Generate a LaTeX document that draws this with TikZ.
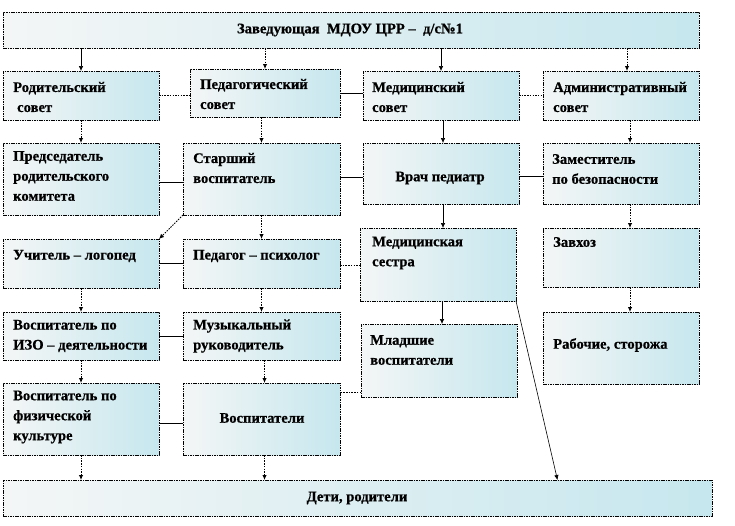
\documentclass[tikz,border=0pt]{standalone}
\usepackage{fontspec}
\setmainfont{Liberation Serif}[BoldFeatures={FakeBold=0.6}]
\usetikzlibrary{arrows.meta,calc}
\definecolor{wl}{RGB}{244,246,246}
\definecolor{bl}{RGB}{198,231,238}
\newcommand{\mybox}[5]{\node[box, minimum width={#4-#2}, minimum height={#5-#3}] (#1) at (#2,#3) {};}
\begin{document}
\begin{tikzpicture}[x=1pt,y=-1pt,
 box/.style={draw=black, dash pattern=on 1.6pt off 0.8pt, line width=0.9pt, left color=wl, right color=bl, inner sep=0pt, outer sep=0pt, anchor=north west},
 txt/.style={font=\fontsize{14.6}{20}\selectfont\bfseries, align=left, inner sep=0pt, anchor=west},
 ctxt/.style={font=\fontsize{14.6}{20}\selectfont\bfseries, inner sep=0pt},
 sline/.style={draw=black, line width=0.6pt},
 dline/.style={draw=black, line width=0.9pt, dash pattern=on 1.5pt off 1.2pt},
 tip/.style={-{Latex[length=5pt,width=4.5pt]}},
]
\useasboundingbox (0,0) rectangle (735,525);
% boxes
\mybox{top}{3}{12}{699}{48}
\mybox{a1}{3}{71}{159}{120}
\mybox{b1}{190}{69}{340}{117}
\mybox{c1}{363}{71}{519}{120}
\mybox{d1}{543}{71}{699}{120}
\mybox{a2}{3}{143}{159}{215}
\mybox{b2}{183}{143}{340}{215}
\mybox{c2}{363}{143}{519}{204}
\mybox{d2}{543}{143}{699}{204}
\mybox{a3}{3}{239}{159}{288}
\mybox{b3}{183}{239}{340}{288}
\mybox{c3}{360}{228}{516}{301}
\mybox{d3}{543}{228}{699}{287}
\mybox{a4}{3}{312}{159}{360}
\mybox{b4}{183}{312}{340}{360}
\mybox{c4}{361}{324}{517}{397}
\mybox{d4}{543}{312}{699}{384}
\mybox{a5}{3}{383}{159}{455}
\mybox{b5}{183}{383}{340}{455}
\mybox{bot}{3}{480}{712}{516}
% texts
\node[ctxt] (ttop) at (350,30) {Заведующая\ \ МДОУ ЦРР –\ \ д/с№1};
\node[txt] (ta1) at (13,97) {Родительский\\\hspace*{4pt}совет};
\node[txt] (tb1) at (200,94) {Педагогический\\совет};
\node[txt] (tc1) at (372,97) {Медицинский\\совет};
\node[txt] (td1) at (553,97) {Административный\\совет};
\node[txt] (ta2) at (13,176) {Председатель\\родительского\\комитета};
\node[txt] (tb2) at (193,168) {Старший\\воспитатель};
\node[ctxt] (tc2) at (440,178) {Врач педиатр};
\node[txt] (td2) at (552,169) {Заместитель\\по безопасности};
\node[txt] (ta3) at (13,256) {Учитель – логопед};
\node[txt] (tb3) at (193,256) {Педагог – психолог};
\node[txt] (tc3) at (372,253) {Медицинская\\сестра};
\node[txt] (td3) at (553,242) {Завхоз};
\node[txt] (ta4) at (13,336) {Воспитатель по\\ИЗО – деятельности};
\node[txt] (tb4) at (193,336) {Музыкальный\\руководитель};
\node[txt] (tc4) at (370,350) {Младшие\\воспитатели};
\node[txt] (td4) at (553,345) {Рабочие, сторожа};
\node[txt] (ta5) at (13,417) {Воспитатель по\\физической\\культуре};
\node[ctxt] (tb5) at (262,418) {Воспитатели};
\node[ctxt] (tbot) at (357,498) {Дети, родители};
% connectors from top
\draw[sline,tip] (a1.north |- top.south) -- (a1.north);
\draw[dline,tip] (b1.north |- top.south) -- (b1.north);
\draw[sline,tip] (c1.north |- top.south) -- (c1.north);
\draw[dline,tip] ([xshift=6pt]d1.north |- top.south) -- ([xshift=6pt]d1.north);
% row 1 horizontals
\draw[dline] (a1.east) -- (b1.west |- a1.east);
\draw[sline] (b1.east) -- (c1.west |- b1.east);
\draw[dline] (c1.east) -- (d1.west);
% row 1 -> row 2
\draw[dline,tip] (a1.south) -- (a2.north);
\draw[dline,tip] (b2.north |- b1.south) -- (b2.north);
\draw[sline,tip] ([xshift=2pt]c1.south) -- ([xshift=2pt]c2.north);
\draw[dline,tip] ([xshift=9pt]d1.south) -- ([xshift=9pt]d2.north);
% row 2 horizontals
\draw[sline] ([yshift=-3pt]a2.east) -- ([yshift=-3pt]b2.west);
\draw[sline] ([yshift=2pt]b2.east) -- ([yshift=2pt]b2.east -| c2.west);
\draw[sline] ([yshift=-3pt]c2.east) -- ([yshift=-3pt]d2.west);
% row 2 -> row 3
\draw[dline,tip] (b2.south west) -- (a3.north east);
\draw[dline,tip] (b2.south) -- (b3.north);
\draw[sline,tip] ([xshift=2pt]c2.south) -- ([xshift=2pt]c2.south |- c3.north);
\draw[dline,tip] ([xshift=9pt]d2.south) -- ([xshift=9pt]d3.north);
% row 3 horizontals
\draw[sline] (a3.east) -- (b3.west);
\draw[dline] ([yshift=-2pt]b3.east) -- ([yshift=-2pt]b3.east -| c3.west);
% row 3 -> row 4
\draw[dline,tip] (a3.south) -- (a4.north);
\draw[dline,tip] (b3.south) -- (b4.north);
\draw[sline,tip] ([xshift=4pt]c3.south) -- ([xshift=4pt]c3.south |- c4.north);
\draw[dline,tip] ([xshift=9pt]d3.south) -- ([xshift=9pt]d4.north);
% row 4 horizontals
\draw[sline] (a4.east) -- (b4.west);
% row 4 -> row 5
\draw[dline,tip] (a4.south) -- (a5.north);
\draw[dline,tip] ([xshift=3pt]b4.south) -- ([xshift=3pt]b5.north);
% row 5
\draw[sline] ([yshift=-4pt]a5.east) -- ([yshift=-4pt]b5.west);
\draw[dline] ([yshift=5pt]c4.south west) -- ([yshift=5pt]c4.south west -| b5.east);
% to bottom
\draw[dline,tip] (a5.south) -- (a5.south |- bot.north);
\draw[dline,tip] ([xshift=3pt]b5.south) -- ([xshift=3pt]b5.south |- bot.north);
\draw[sline,tip] (c3.south east) -- ([xshift=200pt]bot.north);
\end{tikzpicture}
\end{document}
